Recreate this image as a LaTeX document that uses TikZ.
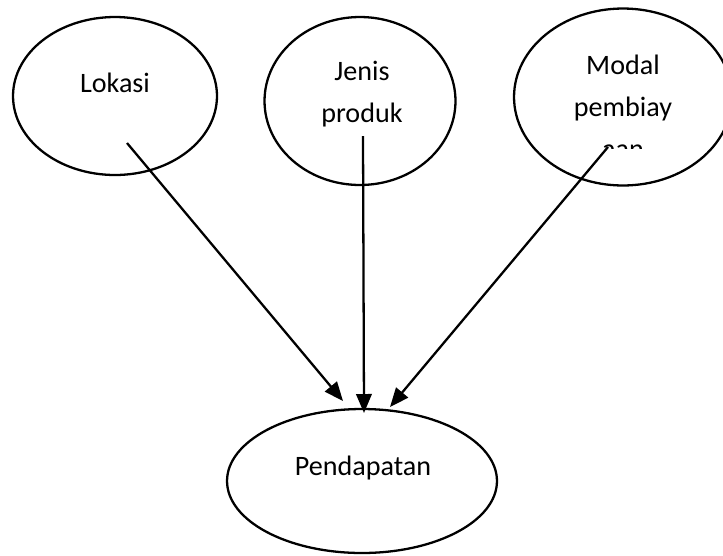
\documentclass[tikz,border=0pt]{standalone}
\usepackage{fontspec}
\setmainfont{Carlito}
\usetikzlibrary{shapes.geometric,arrows.meta}

\begin{document}
\begin{tikzpicture}[x=0.02cm,y=-0.02cm,
    oval/.style={draw,ellipse,line width=1.3pt,inner sep=0pt},
    lbl/.style={font=\fontsize{16}{24}\selectfont,align=center,inner sep=0pt},
    arr/.style={-{Triangle[length=3.8mm,width=3.1mm]},line width=1.3pt}]
    \clip (0,0) rectangle (723,555);
    % ovals
    \node[oval,minimum width=4.08cm,minimum height=3.16cm] (lokasi) at (115,96) {};
    \node[oval,minimum width=3.82cm,minimum height=3.36cm] (jenis) at (360,101) {};
    \node[oval,minimum width=4.36cm,minimum height=3.54cm] (modal) at (623,97) {};
    \node[oval,minimum width=5.4cm,minimum height=2.88cm] (pendapatan) at (362,481) {};
    % texts
    \node[lbl] (lokasiTxt) at (115,83) {Lokasi};
    \node[lbl] (jenisTxt) at (362,94) {Jenis\\produk};
    \begin{scope}
      \clip (500,0) rectangle (723,148);
      \node[lbl] (modalTxt) at (623,107) {Modal\\pembiay\\aan};
    \end{scope}
    \node[lbl] (pendapatanTxt) at (363,468) {Pendapatan};
    % arrows
    \coordinate (lokasiS) at (127,143);
    \coordinate (jenisS) at (363,136);
    \coordinate (modalS) at (608,147);
    \coordinate (pendL) at (343,401);
    \coordinate (pendM) at (364,413);
    \coordinate (pendR) at (390,407);
    \draw[arr] (lokasiS) -- (pendL);
    \draw[arr] (jenisS) -- (pendM);
    \draw[arr] (modalS) -- (pendR);
\end{tikzpicture}
\end{document}
